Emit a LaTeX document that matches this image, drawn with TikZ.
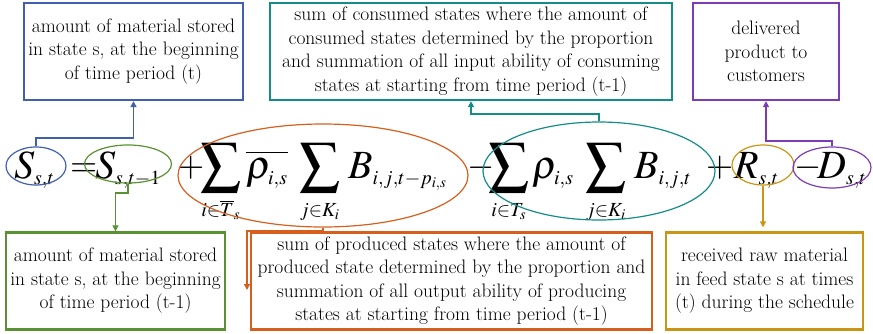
\documentclass[tikz,border=0pt]{standalone}
\usepackage{mathptmx}
\DeclareMathSizes{40}{40}{20}{15}
\DeclareMathSizes{35}{35}{18}{14}
\usetikzlibrary{shapes.geometric,arrows.meta}
\definecolor{cblue}{RGB}{65,95,175}
\definecolor{cteal}{RGB}{20,140,135}
\definecolor{cpurple}{RGB}{125,60,180}
\definecolor{cgreen}{RGB}{90,145,50}
\definecolor{corange}{RGB}{215,95,30}
\definecolor{cgold}{RGB}{200,150,20}
\tikzset{
  infobox/.style={draw, line width=2.3pt, fill=white, align=center, inner sep=2pt,
    font=\fontsize{19.5}{23.5}\selectfont, minimum height=97pt},
  eqpart/.style={inner sep=0pt, anchor=base west, font=\fontsize{40}{44}\selectfont},
  eqop/.style={inner sep=0pt, anchor=base west, font=\fontsize{35}{38}\selectfont},
  ring/.style={draw, ellipse, line width=1.2pt, inner sep=0pt},
  conn/.style={line width=1.6pt, -{Triangle[width=6pt,length=6pt]}},
}
\begin{document}
\begin{tikzpicture}[x=1pt,y=-1pt]
\useasboundingbox (0,0) rectangle (873,333);
% equation
\node[eqpart] (t1) at (14,178) {$S_{s,t}$};
\node[eqop] (q1) at (70,176.5) {$=$};
\node[eqpart] (t2) at (95,178) {$S_{s,t-1}$};
\node[eqop] (p1) at (177,176.5) {$+$};
\node[eqpart] (sA) at (200,178) {$\displaystyle\sum_{i\in\overline{T}_s}$};
\node[eqpart] (rA) at (246,178) {$\overline{\rho_{i,s}}$};
\node[eqpart] (sB) at (299,178) {$\displaystyle\sum_{j\in K_i}$};
\node[eqpart] (bA) at (348,178) {$B_{i,j,t-p_{i,s}}$};
\node[eqop] (m1) at (467,176.5) {$-$};
\node[eqpart] (sC) at (488,178) {$\displaystyle\sum_{i\in T_s}$};
\node[eqpart] (rC) at (532,178) {$\rho_{i,s}$};
\node[eqpart] (sD) at (585,178) {$\displaystyle\sum_{j\in K_i}$};
\node[eqpart] (bC) at (634,178) {$B_{i,j,t}$};
\node[eqop] (p2) at (706,176.5) {$+$};
\node[eqpart] (t5) at (734,178) {$R_{s,t}$};
\node[eqop] (m2) at (794,176.5) {$-$};
\node[eqpart] (t6) at (817,178) {$D_{s,t}$};
% ellipses
\node[ring, draw=cblue, minimum width=60pt, minimum height=38pt] (eS) at (36,166) {};
\node[ring, draw=cgreen, minimum width=87pt, minimum height=38pt] (eS1) at (128,164) {};
\node[ring, draw=corange, minimum width=290pt, minimum height=103pt] (eP) at (323,175.5) {};
\node[ring, draw=cteal, minimum width=232pt, minimum height=98pt] (eC) at (599,171) {};
\node[ring, draw=cgold, minimum width=62pt, minimum height=40pt] (eR) at (763,165) {};
\node[ring, draw=cpurple, minimum width=78pt, minimum height=41pt] (eD) at (832,167.5) {};
% boxes
\node[infobox, draw=cblue, minimum width=219pt] (bS) at (133.5,51.5)
  {amount of material stored\\in state s, at the beginning\\of time period (t)};
\node[infobox, draw=cteal, minimum width=402pt] (bCo) at (471,51.5)
  {sum of consumed states where the amount of\\consumed states determined by the proportion\\and summation of all input ability of consuming\\states at starting from time period (t-1)};
\node[infobox, draw=cpurple, minimum width=146pt] (bD) at (766,51.5)
  {delivered\\product to\\customers};
\node[infobox, draw=cgreen, minimum width=219pt] (bS1) at (115.5,281)
  {amount of material stored\\in state s, at the beginning\\of time period (t-1)};
\node[infobox, draw=corange, minimum width=401pt] (bP) at (451.5,281)
  {sum of produced states where the amount of\\produced state determined by the proportion and\\summation of all output ability of producing\\states at starting from time period (t-1)};
\node[infobox, draw=cgold, minimum width=197pt] (bR) at (764.5,281)
  {received raw material\\in feed state s at times\\(t) during the schedule};
% connectors
\coordinate (oEnd) at (247,290);
\draw[conn, draw=cblue] (eS.north) -- (eS.north |- 0,138) -| (bS.south);
\draw[conn, draw=cgreen] (eS1.south) -- (eS1.south |- 0,193) -| (bS1.north);
\draw[conn, draw=corange, line width=2.2pt] (eP.south) -- (eP.south |- 0,231) -| (oEnd);
\draw[conn, draw=cteal] (eC.north) -- (eC.north |- 0,114) -| (bCo.south);
\draw[conn, draw=cpurple] (eD.north) -- (eD.north |- 0,141) -| (bD.south);
\draw[conn, draw=cgold, shorten >=4pt] (eR.south) -- (eR.south |- bR.north);
\end{tikzpicture}
\end{document}
